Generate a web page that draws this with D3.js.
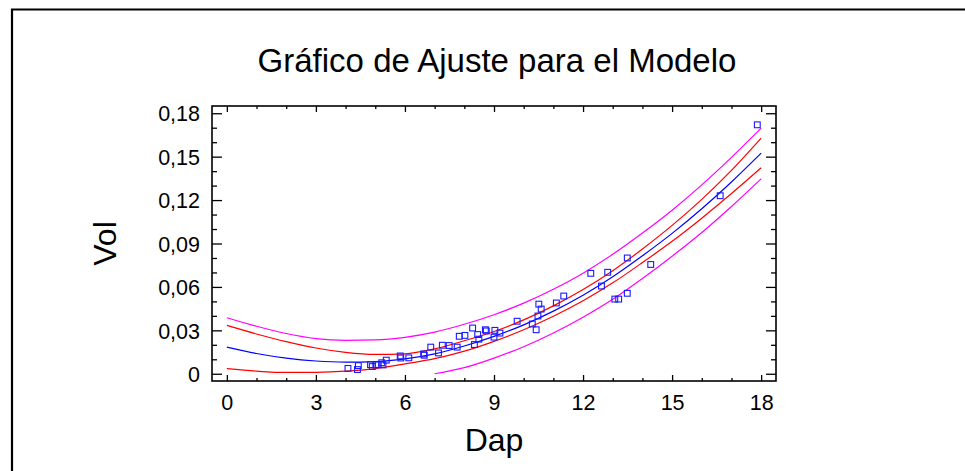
<!DOCTYPE html>
<html>
<head>
<meta charset="utf-8">
<script src="https://cdn.jsdelivr.net/npm/d3@7"></script>
<style>
  html, body { margin: 0; padding: 0; background: #fff; }
  svg { display: block; }
  text { font-family: "Liberation Sans", Arial, sans-serif; fill: #000; }
</style>
</head>
<body>
<svg id="chart" width="965" height="471"></svg>
<script>
// ---- data ----
const title = "Gráfico de Ajuste para el Modelo";
const xLabel = "Dap";
const yLabel = "Vol";

const dap = [4.08, 4.40, 4.43, 4.84, 4.90, 5.02, 5.10, 5.22, 5.26, 5.37,
             5.84, 5.86, 6.13, 6.63, 6.65, 6.87, 7.13, 7.26, 7.49, 7.76,
             7.83, 8.02, 8.28, 8.34, 8.45, 8.49, 8.71, 8.74, 9.00, 9.03,
             9.20, 9.78, 10.29, 10.42, 10.48, 10.51, 10.59, 11.10, 11.35, 12.26,
             12.62, 12.83, 13.07, 13.20, 13.49, 13.49, 14.28, 16.62, 17.87];
const vol = [0.0037, 0.0029, 0.0056, 0.0063, 0.0050, 0.0062, 0.0064, 0.0076, 0.0061, 0.0094,
             0.0123, 0.0109, 0.0110, 0.0137, 0.0128, 0.0184, 0.0144, 0.0197, 0.0195, 0.0184,
             0.0259, 0.0265, 0.0316, 0.0202, 0.0271, 0.0239, 0.0304, 0.0296, 0.0253, 0.0300,
             0.0281, 0.0363, 0.0344, 0.0304, 0.0399, 0.0481, 0.0447, 0.0489, 0.0537, 0.0694,
             0.0606, 0.0701, 0.0516, 0.0516, 0.0800, 0.0556, 0.0755, 0.1230, 0.1720];

const curveX = [0, 1, 2, 3, 4, 5, 6, 7, 8, 9, 10, 11, 12, 13, 14, 15, 16, 17, 18];
const fitted    = [0.0184, 0.0140, 0.0108, 0.0088, 0.0080, 0.0084, 0.0103, 0.0138, 0.0192, 0.0258,
                   0.0338, 0.0433, 0.0543, 0.0670, 0.0815, 0.0970, 0.1140, 0.1325, 0.1524];
const confUpper = [0.0334, 0.0275, 0.0222, 0.0178, 0.0148, 0.0134, 0.0138, 0.0172, 0.0228, 0.0292,
                   0.0372, 0.0469, 0.0582, 0.0712, 0.0862, 0.1025, 0.1205, 0.1405, 0.1628];
const confLower = [0.0035, 0.0018, 0.0009, 0.0010, 0.0018, 0.0036, 0.0068, 0.0104, 0.0156, 0.0224,
                   0.0304, 0.0397, 0.0504, 0.0628, 0.0768, 0.0915, 0.1075, 0.1245, 0.1423];
const predUpper = [0.0387, 0.0328, 0.0278, 0.0243, 0.0231, 0.0234, 0.0252, 0.0288, 0.0342, 0.0408,
                   0.0488, 0.0584, 0.0695, 0.0825, 0.0972, 0.1130, 0.1305, 0.1495, 0.1697];
const predLowerX = [7, 8, 9, 10, 11, 12, 13, 14, 15, 16, 17, 18];
const predLower  = [0.0000, 0.0042, 0.0108, 0.0187, 0.0282, 0.0391, 0.0515, 0.0658, 0.0812, 0.0976, 0.1156, 0.1347];

const xMajorTicks = [0, 3, 6, 9, 12, 15, 18];
const xTickLabels = ["0", "3", "6", "9", "12", "15", "18"];
const xMinorTicks = [1, 2, 4, 5, 7, 8, 10, 11, 13, 14, 16, 17];
const yMajorTicks = [0, 0.03, 0.06, 0.09, 0.12, 0.15, 0.18];
const yTickLabels = ["0", "0,03", "0,06", "0,09", "0,12", "0,15", "0,18"];
const yMinorTicks = [0.01, 0.02, 0.04, 0.05, 0.07, 0.08, 0.10, 0.11, 0.13, 0.14, 0.16, 0.17];

// ---- layout ----
const svg = d3.select("#chart");
const L = 212, R = 776, T = 106, B = 381;

const x = d3.scaleLinear().domain([-0.5, 18.5]).range([L, R]);
const y = d3.scaleLinear().domain([-0.005, 0.185]).range([B, T]);

svg.append("rect").attr("width", 965).attr("height", 471).attr("fill", "#fff");

// outer window border (only left and top visible)
svg.append("path")
  .attr("d", `M12,471 L12,9.5 L965,9.5`)
  .attr("fill", "none").attr("stroke", "#000").attr("stroke-width", 2.2);

// title
svg.append("text")
  .attr("x", 497).attr("y", 72)
  .attr("text-anchor", "middle")
  .style("font-size", "33px")
  .text(title);

// clip for plot lines
svg.append("clipPath").attr("id", "clip")
  .append("rect").attr("x", L).attr("y", T).attr("width", R - L).attr("height", B - T);

const plot = svg.append("g").attr("clip-path", "url(#clip)");

const line = d3.line().x(d => x(d[0])).y(d => y(d[1])).curve(d3.curveMonotoneX);

function drawCurve(xs, ys, color) {
  plot.append("path")
    .datum(xs.map((v, i) => [v, ys[i]]))
    .attr("d", line)
    .attr("fill", "none")
    .attr("stroke", color)
    .attr("stroke-width", 1.2);
}
drawCurve(curveX, predUpper, "#ff00ff");
drawCurve(predLowerX, predLower, "#ff00ff");
drawCurve(curveX, confUpper, "#ff0000");
drawCurve(curveX, confLower, "#ff0000");
drawCurve(curveX, fitted, "#0000ff");

// points
const sq = 5.8;
plot.selectAll("rect.pt")
  .data(dap.map((d, i) => [d, vol[i]]))
  .join("rect")
  .attr("class", "pt")
  .attr("x", d => x(d[0]) - sq / 2)
  .attr("y", d => y(d[1]) - sq / 2)
  .attr("width", sq).attr("height", sq)
  .attr("fill", "none")
  .attr("stroke", "#1a1aff")
  .attr("stroke-width", 1.1);

// axes
function styleAxis(g) {
  g.select(".domain").remove();
  g.selectAll(".tick line").attr("stroke", "#000").attr("stroke-width", 1.3);
  g.selectAll(".tick text").style("font-size", "21.5px").attr("fill", "#000");
}

svg.append("g").attr("transform", `translate(0,${B})`)
  .call(d3.axisBottom(x).tickValues(xMajorTicks).tickSize(-6).tickPadding(14)
        .tickFormat((d, i) => xTickLabels[i]))
  .call(styleAxis);
svg.append("g").attr("transform", `translate(0,${B})`)
  .call(d3.axisBottom(x).tickValues(xMinorTicks).tickSize(-3).tickFormat(""))
  .call(styleAxis);
svg.append("g").attr("transform", `translate(0,${T})`)
  .call(d3.axisTop(x).tickValues(xMajorTicks).tickSize(-6).tickFormat(""))
  .call(styleAxis);
svg.append("g").attr("transform", `translate(0,${T})`)
  .call(d3.axisTop(x).tickValues(xMinorTicks).tickSize(-3).tickFormat(""))
  .call(styleAxis);

svg.append("g").attr("transform", `translate(${L},0)`)
  .call(d3.axisLeft(y).tickValues(yMajorTicks).tickSize(-10).tickPadding(12)
        .tickFormat((d, i) => yTickLabels[i]))
  .call(styleAxis)
  .call(g => g.selectAll(".tick text").attr("dy", "0.36em"));
svg.append("g").attr("transform", `translate(${L},0)`)
  .call(d3.axisLeft(y).tickValues(yMinorTicks).tickSize(-5).tickFormat(""))
  .call(styleAxis);
svg.append("g").attr("transform", `translate(${R},0)`)
  .call(d3.axisRight(y).tickValues(yMajorTicks).tickSize(-10).tickFormat(""))
  .call(styleAxis);
svg.append("g").attr("transform", `translate(${R},0)`)
  .call(d3.axisRight(y).tickValues(yMinorTicks).tickSize(-5).tickFormat(""))
  .call(styleAxis);

// frame
svg.append("rect")
  .attr("x", L).attr("y", T).attr("width", R - L).attr("height", B - T)
  .attr("fill", "none").attr("stroke", "#000").attr("stroke-width", 1.6);

// axis titles
svg.append("text")
  .attr("x", (L + R) / 2).attr("y", 451)
  .attr("text-anchor", "middle")
  .style("font-size", "32px")
  .text(xLabel);
svg.append("text")
  .attr("transform", `translate(116,${(T + B) / 2}) rotate(-90)`)
  .attr("text-anchor", "middle")
  .style("font-size", "32px")
  .text(yLabel);
</script>
</body>
</html>
